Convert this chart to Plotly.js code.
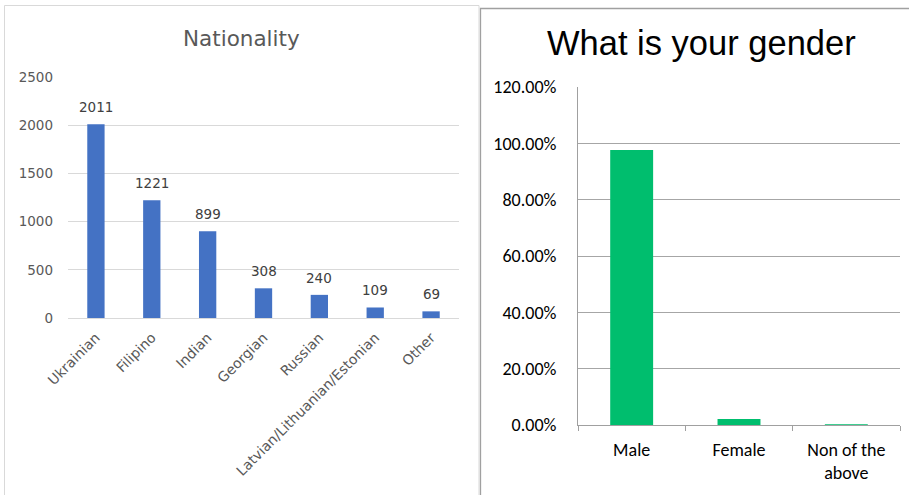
<!DOCTYPE html>
<html><head><meta charset="utf-8">
<script src="https://cdn.plot.ly/plotly-3.0.1.min.js"></script>
<style>html,body{margin:0;padding:0;background:#fff}#c{width:909px;height:495px}</style>
</head><body><div id="c"></div>
<script>
const nationalities = ["Ukrainian","Filipino","Indian","Georgian","Russian","Latvian/Lithuanian/Estonian","Other"];
const nationalityCounts = [2011,1221,899,308,240,109,69];
const genders = ["Male","Female","Non of the<br>above"];
const genderShares = [0.976,0.021,0.003];
const W=909,H=495;
const px=x=>x/W, py=y=>1-y/H;
const leftFont='"DejaVu Sans", "Noto Sans", sans-serif';
const rightFont='Carlito, Calibri, Lato, sans-serif';

const traces=[
 {type:'bar',x:nationalities,y:nationalityCounts,xaxis:'x',yaxis:'y',marker:{color:'#4472c4'},width:0.31,hoverinfo:'none'},
 {type:'bar',x:genders,y:genderShares,xaxis:'x2',yaxis:'y2',marker:{color:'#00be6e'},width:0.4,hoverinfo:'none'}
];
const lf={family:leftFont,size:13.5,color:'#595959'};
const xf={family:leftFont,size:14,color:'#595959'};
const rf={family:rightFont,size:18,color:'#000'};
const labelAnns=nationalities.map((c,i)=>({text:String(nationalityCounts[i]),x:c,y:nationalityCounts[i],xref:'x',yref:'y',
  showarrow:false,xanchor:'center',yanchor:'bottom',yshift:7,font:{family:leftFont,size:13.5,color:'#404040'}}));
const layout={
 width:W,height:H,margin:{l:0,r:0,t:0,b:0},showlegend:false,paper_bgcolor:'#fff',plot_bgcolor:'rgba(0,0,0,0)',
 xaxis:{domain:[px(68),px(459)],anchor:'y',tickangle:-45,tickfont:xf,showgrid:false,zeroline:false,showline:true,linecolor:'#d9d9d9',ticks:'',ticklabelstandoff:5,fixedrange:true},
 yaxis:{domain:[py(318),py(77)],anchor:'x',range:[0,2500],dtick:500,tickfont:lf,gridcolor:'#d9d9d9',zeroline:false,showline:false,ticks:'',ticklabelstandoff:14,fixedrange:true},
 xaxis2:{domain:[px(578),px(900)],anchor:'y2',tickfont:rf,showgrid:false,zeroline:false,showline:true,linecolor:'#a0a0a0',ticks:'outside',ticklen:5,tickcolor:'#a0a0a0',tickson:'boundaries',ticklabelstandoff:8,fixedrange:true},
 yaxis2:{domain:[py(425),py(87)],anchor:'x2',range:[0,1.2],dtick:0.2,tickformat:'.2%',tickfont:rf,gridcolor:'#a6a6a6',zeroline:false,showline:true,linecolor:'#a0a0a0',ticks:'',ticklabelstandoff:17,fixedrange:true},
 annotations:[
  {text:'Nationality',xref:'paper',yref:'paper',x:px(242),y:py(38),showarrow:false,xanchor:'center',yanchor:'middle',font:{family:leftFont,size:21.5,color:'#595959'}},
  {text:'What is your gender',xref:'paper',yref:'paper',x:px(701),y:py(43),showarrow:false,xanchor:'center',yanchor:'middle',font:{family:'"Liberation Sans", Arial, sans-serif',size:34.5,color:'#000'}}
 ].concat(labelAnns),
 shapes:[
  {type:'rect',xref:'paper',yref:'paper',x0:px(4.5),x1:px(479),y0:py(500),y1:py(5.5),line:{color:'#d9d9d9',width:1},fillcolor:'rgba(0,0,0,0)',layer:'below'},
  {type:'rect',xref:'paper',yref:'paper',x0:px(480.5),x1:px(915),y0:py(500),y1:py(8.5),line:{color:'#a0a0a0',width:1.3},fillcolor:'rgba(0,0,0,0)',layer:'below'}
 ]
};
Plotly.newPlot('c',traces,layout,{staticPlot:true,displayModeBar:false});
</script></body></html>
